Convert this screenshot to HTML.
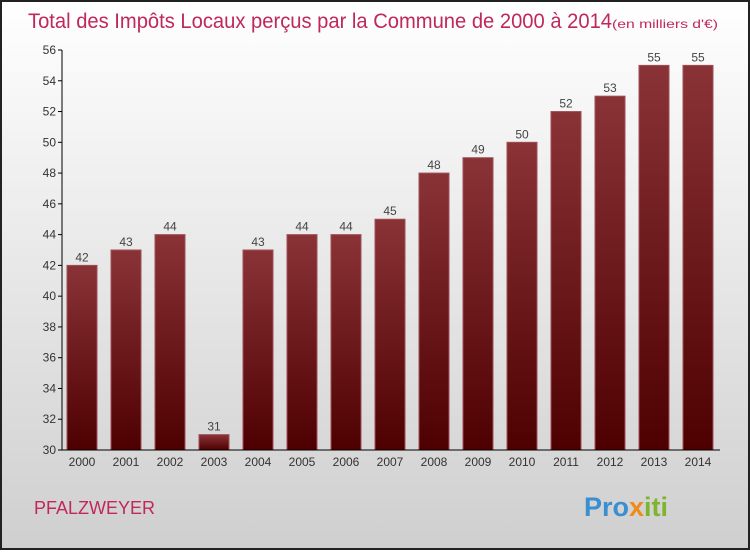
<!DOCTYPE html>
<html><head><meta charset="utf-8"><style>
html,body{margin:0;padding:0}
body{width:750px;height:550px;overflow:hidden;font-family:"Liberation Sans",sans-serif}
</style></head><body>
<svg id="c" width="750" height="550" xmlns="http://www.w3.org/2000/svg">
<defs>
<linearGradient id="bg" x1="0" y1="0" x2="0" y2="1"><stop offset="0" stop-color="#ffffff"/><stop offset="1" stop-color="#cfcfcf"/></linearGradient>
<linearGradient id="bar" x1="0" y1="0" x2="0" y2="1"><stop offset="0" stop-color="#8a3337"/><stop offset="1" stop-color="#4e0000"/></linearGradient>
</defs>
<rect x="1" y="1" width="748" height="548" fill="url(#bg)" stroke="#222" stroke-width="2"/>
<text x="28" y="28" font-size="21" fill="#c0285a"><tspan textLength="584" lengthAdjust="spacingAndGlyphs">Total des Impôts Locaux perçus par la Commune de 2000 à 2014</tspan><tspan font-size="12" textLength="106" lengthAdjust="spacingAndGlyphs">(en milliers d'€)</tspan></text>
<text x="34" y="514" font-size="18" fill="#c0285a" textLength="121" lengthAdjust="spacingAndGlyphs">PFALZWEYER</text>
<text x="584" y="516" font-size="27" font-weight="bold"><tspan fill="#3a8fd0">Pro</tspan><tspan fill="#f08a1a">x</tspan><tspan fill="#7fb52e">iti</tspan></text>
<g id="plot"></g>
</svg>
<script>
const years=["2000","2001","2002","2003","2004","2005","2006","2007","2008","2009","2010","2011","2012","2013","2014"];
const values=[42,43,44,31,43,44,44,45,48,49,50,52,53,55,55];
const yTicks=[30,32,34,36,38,40,42,44,46,48,50,52,54,56];
const NS="http://www.w3.org/2000/svg";
const g=document.getElementById('plot');
const x0=62,x1=720,yTop=50,yBot=450,yMin=30,yMax=56;
const y=v=>yBot-(v-yMin)/(yMax-yMin)*(yBot-yTop);
const step=44,first=82;
const xc=i=>first+i*step;
function mk(t,a){const e=document.createElementNS(NS,t);for(const k in a)e.setAttribute(k,a[k]);g.appendChild(e);return e;}
values.forEach((v,i)=>{
 const r=mk('rect',{x:xc(i)-15,y:y(v),width:30,height:yBot-y(v),fill:'url(#bar)',stroke:'#a05058','stroke-width':1});
 
 
 const t=mk('text',{x:xc(i),y:y(v)-4,'font-size':12,'text-anchor':'middle',fill:'#444'});
 t.textContent=v;
 
 
 const xl=mk('text',{x:xc(i),y:466,'font-size':12,'text-anchor':'middle',fill:'#333'});
 xl.textContent=years[i];
 
 
});
yTicks.forEach(v=>{
 const l=mk('line',{x1:x0-4,x2:x0,y1:y(v),y2:y(v),stroke:'#000'});
 
 
 const t=mk('text',{x:x0-6,y:y(v)+4,'font-size':12,'text-anchor':'end',fill:'#333'});
 t.textContent=v;
 
 
});
const ya=mk('line',{x1:x0,x2:x0,y1:yTop,y2:yBot,stroke:'#000'});


const xa=mk('line',{x1:x0,x2:x1,y1:yBot,y2:yBot,stroke:'#000'});


</script>
</body></html>
